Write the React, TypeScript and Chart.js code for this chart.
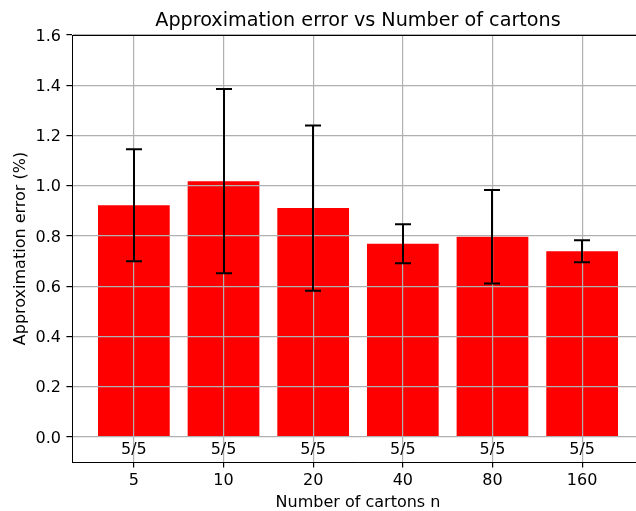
import React, { useEffect, useRef } from "react";
import { Chart, registerables } from "chart.js";

Chart.register(...registerables);

// Carton counts and their mean approximation error (%) with spread
const cartonCounts = ["5", "10", "20", "40", "80", "160"];
const meanError = [0.922, 1.018, 0.911, 0.769, 0.797, 0.739];
const errorSpread = [0.223, 0.367, 0.329, 0.078, 0.186, 0.044];
const successLabels = ["5/5", "5/5", "5/5", "5/5", "5/5", "5/5"];
const yTicks = [0, 0.2, 0.4, 0.6, 0.8, 1.0, 1.2, 1.4, 1.6];

const FONT = "'DejaVu Sans', sans-serif";
const LABEL_SIZE = 16;
const TITLE_SIZE = 19.2;

const overlayPlugin = {
  id: "overlay",
  afterDraw(chart: any) {
    const { ctx, chartArea, scales } = chart;
    const x = scales.x;
    const y = scales.y;
    ctx.save();

    // top spine
    ctx.strokeStyle = "#000";
    ctx.lineWidth = 1;
    ctx.beginPath();
    ctx.moveTo(chartArea.left, chartArea.top + 0.5);
    ctx.lineTo(chartArea.right, chartArea.top + 0.5);
    ctx.stroke();

    // error bars with caps
    ctx.lineWidth = 2;
    meanError.forEach((m, i) => {
      const px = Math.round(x.getPixelForValue(i));
      const hi = y.getPixelForValue(m + errorSpread[i]);
      const lo = y.getPixelForValue(m - errorSpread[i]);
      ctx.beginPath();
      ctx.moveTo(px, hi);
      ctx.lineTo(px, lo);
      ctx.moveTo(px - 8, hi);
      ctx.lineTo(px + 8, hi);
      ctx.moveTo(px - 8, lo);
      ctx.lineTo(px + 8, lo);
      ctx.stroke();
    });

    // success count under each bar
    ctx.fillStyle = "#000";
    ctx.font = `${LABEL_SIZE}px ${FONT}`;
    ctx.textAlign = "center";
    ctx.textBaseline = "alphabetic";
    successLabels.forEach((t, i) => {
      ctx.fillText(t, x.getPixelForValue(i), 454);
    });

    // title
    ctx.font = `${TITLE_SIZE}px ${FONT}`;
    ctx.fillText(
      "Approximation error vs Number of cartons",
      (chartArea.left + chartArea.right) / 2,
      26
    );
    ctx.restore();
  },
};

export default function App() {
  const canvasRef = useRef<HTMLCanvasElement | null>(null);

  useEffect(() => {
    if (!canvasRef.current) return;
    const chart = new Chart(canvasRef.current, {
      type: "bar",
      data: {
        datasets: [
          {
            data: meanError.map((v, i) => ({ x: i, y: v })),
            backgroundColor: "#ff0000",
            borderWidth: 0,
            barPercentage: 0.8,
            categoryPercentage: 1,
          },
        ],
      },
      options: {
        animation: false,
        responsive: false,
        devicePixelRatio: 1,
        layout: { padding: { top: 35, right: 16, left: 0, bottom: 0 } },
        plugins: {
          legend: { display: false },
          title: { display: false },
          tooltip: { enabled: false },
        },
        scales: {
          x: {
            type: "linear",
            min: -0.69,
            max: 5.69,
            offset: false,
            afterBuildTicks: (s: any) => {
              s.ticks = cartonCounts.map((_, i) => ({ value: i }));
            },
            afterFit: (s: any) => {
              s.height = 49;
            },
            ticks: {
              callback: (v: any) => cartonCounts[Math.round(Number(v))],
              color: "#000",
              font: { family: FONT, size: LABEL_SIZE },
              padding: 4,
              maxRotation: 0,
            },
            grid: {
              offset: false,
              color: "#b0b0b0",
              lineWidth: 1.2,
              tickColor: "#000",
              tickLength: 5.6,
              z: 1,
            },
            border: { color: "#000", width: 1, z: 1 },
            title: {
              display: true,
              text: "Number of cartons n",
              color: "#000",
              font: { family: FONT, size: LABEL_SIZE },
              padding: { top: 0, bottom: -1 },
            },
          },
          y: {
            type: "linear",
            min: -0.1,
            max: 1.6,
            afterBuildTicks: (s: any) => {
              s.ticks = yTicks.map((v) => ({ value: v }));
            },
            afterFit: (s: any) => {
              s.width = 72;
            },
            ticks: {
              callback: (v: any) => Number(v).toFixed(1),
              color: "#000",
              font: { family: FONT, size: LABEL_SIZE },
              padding: 5.5,
              labelOffset: 1.5,
            },
            grid: {
              color: "#b0b0b0",
              lineWidth: 1.2,
              tickColor: "#000",
              tickLength: 5.6,
              z: 1,
            },
            border: { color: "#000", width: 1, z: 1 },
            title: {
              display: true,
              text: "Approximation error (%)",
              color: "#000",
              font: { family: FONT, size: LABEL_SIZE },
              padding: { top: 11, bottom: 0 },
            },
          },
        },
      },
      plugins: [overlayPlugin],
    } as any);
    return () => chart.destroy();
  }, []);

  return (
    <div
      style={{
        position: "absolute",
        left: 0,
        top: 0,
        width: 636,
        height: 511,
        overflow: "hidden",
        background: "#fff",
      }}
    >
      <canvas
        ref={canvasRef}
        width={660}
        height={511}
        style={{ width: 660, height: 511, display: "block" }}
      />
    </div>
  );
}
